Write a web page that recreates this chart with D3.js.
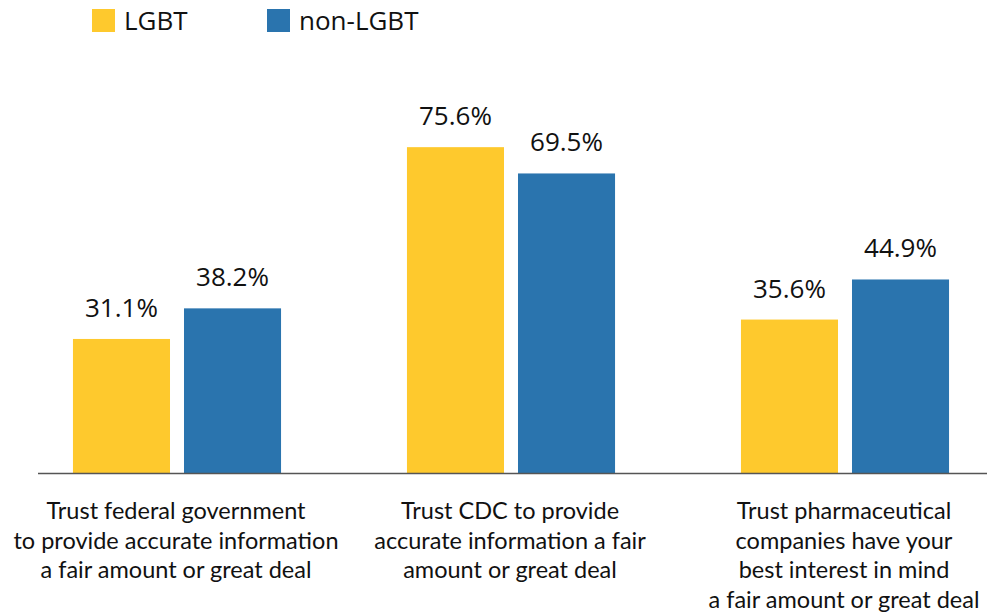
<!DOCTYPE html>
<html>
<head>
<meta charset="utf-8">
<script src="https://cdn.jsdelivr.net/npm/d3@7"></script>
<style>
  html, body { margin: 0; padding: 0; background: #fff; }
  svg { display: block; }
</style>
</head>
<body>
<div id="chart"></div>
<script>
// Survey categories (multi-line labels)
const categories = [
  ["Trust federal government", "to provide accurate information", "a fair amount or great deal"],
  ["Trust CDC to provide", "accurate information a fair", "amount or great deal"],
  ["Trust pharmaceutical", "companies have your", "best interest in mind", "a fair amount or great deal"]
];
const seriesNames = ["LGBT", "non-LGBT"];
const lgbtValues = [31.1, 75.6, 35.6];
const nonLgbtValues = [38.2, 69.5, 44.9];

const width = 987, height = 613;
const colors = { "LGBT": "#FEC92D", "non-LGBT": "#2A74AE" };

const svg = d3.select("#chart").append("svg")
  .attr("width", width).attr("height", height);

const baseline = 473;
const x0 = d3.scaleBand()
  .domain(d3.range(categories.length))
  .range([10, 1012])
  .paddingInner(0.377)
  .paddingOuter(0.1885);
const x1 = d3.scaleBand()
  .domain(seriesNames)
  .range([0, x0.bandwidth()])
  .paddingInner(0.126);
const y = d3.scaleLinear().domain([0, 100]).range([baseline, 42]);

const rows = categories.map((c, i) => ({
  i,
  values: [
    { key: "LGBT", value: lgbtValues[i] },
    { key: "non-LGBT", value: nonLgbtValues[i] }
  ]
}));

const groups = svg.selectAll("g.group").data(rows).join("g")
  .attr("class", "group")
  .attr("transform", d => `translate(${x0(d.i)},0)`);

groups.selectAll("rect").data(d => d.values).join("rect")
  .attr("x", d => x1(d.key))
  .attr("y", d => y(d.value))
  .attr("width", x1.bandwidth())
  .attr("height", d => y(0) - y(d.value))
  .attr("fill", d => colors[d.key]);

groups.selectAll("text.val").data(d => d.values).join("text")
  .attr("class", "val")
  .attr("x", d => x1(d.key) + x1.bandwidth() / 2)
  .attr("y", d => y(d.value) - 22)
  .attr("text-anchor", "middle")
  .attr("font-family", "'Open Sans', sans-serif")
  .attr("font-size", 26)
  .attr("fill", "#111")
  .text(d => d.value.toFixed(1) + "%");

// Baseline axis
svg.append("line")
  .attr("x1", 38).attr("x2", width)
  .attr("y1", baseline + 0.5).attr("y2", baseline + 0.5)
  .attr("stroke", "#555").attr("stroke-width", 1.5);

// Category labels
groups.append("text")
  .attr("text-anchor", "middle")
  .attr("font-family", "Lato, sans-serif")
  .attr("font-size", 23.5)
  .attr("fill", "#111")
  .selectAll("tspan").data(d => categories[d.i]).join("tspan")
  .attr("x", x0.bandwidth() / 2 - 1)
  .attr("y", (d, k) => 519 + k * 29.5)
  .text(d => d);

// Legend
const legend = svg.append("g");
const legendX = [92, 267];
seriesNames.forEach((name, k) => {
  legend.append("rect")
    .attr("x", legendX[k]).attr("y", 9)
    .attr("width", 23).attr("height", 23)
    .attr("fill", colors[name]);
  legend.append("text")
    .attr("x", legendX[k] + 32).attr("y", 30)
    .attr("font-family", "'Open Sans', sans-serif")
    .attr("font-size", 26)
    .attr("fill", "#111")
    .text(name);
});
</script>
</body>
</html>
